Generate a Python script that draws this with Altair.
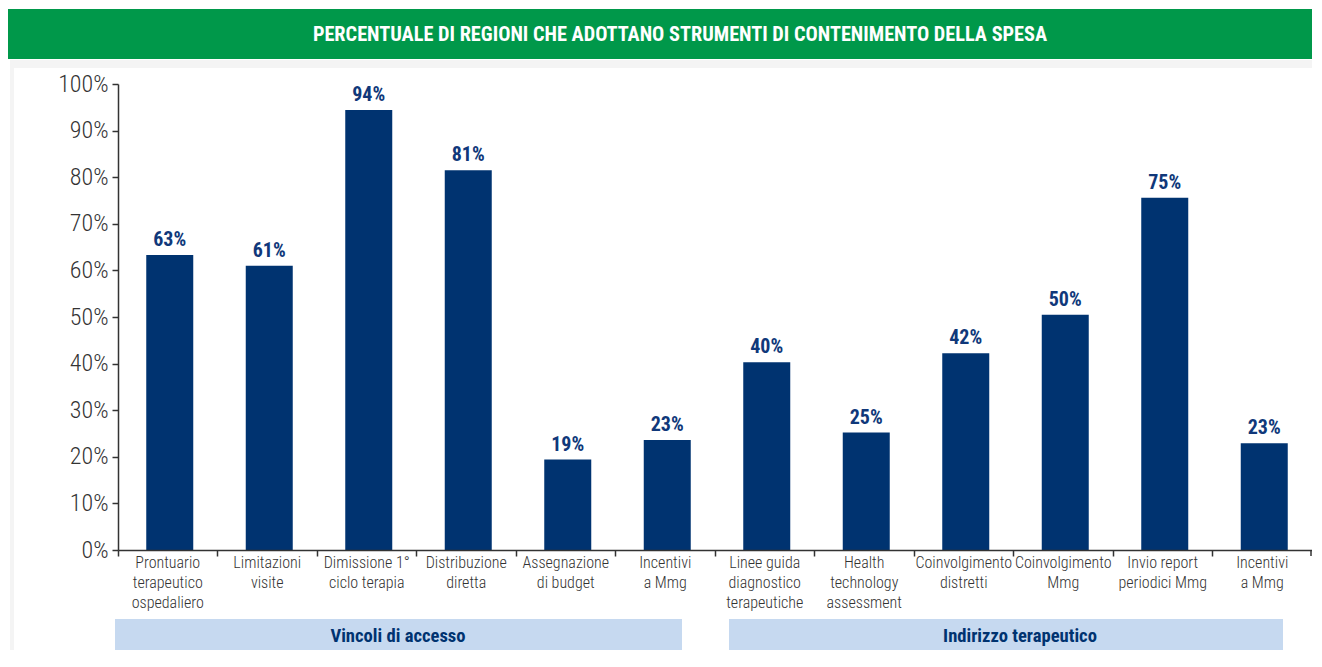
import json
import altair as alt
import pandas as pd

# ---------------- data ----------------
categories = [
    ["Prontuario", "terapeutico", "ospedaliero"],
    ["Limitazioni", "visite"],
    ["Dimissione 1°", "ciclo terapia"],
    ["Distribuzione", "diretta"],
    ["Assegnazione", "di budget"],
    ["Incentivi", "a Mmg"],
    ["Linee guida", "diagnostico", "terapeutiche"],
    ["Health", "technology", "assessment"],
    ["Coinvolgimento", "distretti"],
    ["Coinvolgimento", "Mmg"],
    ["Invio report", "periodici Mmg"],
    ["Incentivi", "a Mmg"],
]
values = [63.3, 61.0, 94.4, 81.5, 19.4, 23.6, 40.3, 25.2, 42.2, 50.5, 75.6, 22.9]
value_labels = ["63%", "61%", "94%", "81%", "19%", "23%", "40%", "25%", "42%", "50%", "75%", "23%"]
groups = ["Vincoli di accesso", "Indirizzo terapeutico"]
title_text = "PERCENTUALE DI REGIONI CHE ADOTTANO STRUMENTI DI CONTENIMENTO DELLA SPESA"
y_ticks = list(range(0, 101, 10))

df = pd.DataFrame({"idx": list(range(len(values))), "value": values, "label": value_labels})
one = pd.DataFrame({"k": [0]})

FONT = "Liberation Sans Narrow, Roboto Condensed, DejaVu Sans Condensed, sans-serif"
NAVY = "#003370"
GREEN = "#00984A"
BAND = "#C6D9F0"
AXIS = "#333333"

W, H = 1194, 466
RIGHT_EDGE = W

label_expr = json.dumps(categories, ensure_ascii=False).replace('"', "'") + "[datum.value]"

x_enc = alt.X(
    "idx:O",
    scale=alt.Scale(paddingInner=0, paddingOuter=0),
    axis=alt.Axis(
        title=None,
        labelExpr=label_expr,
        labelAngle=0,
        labelFont=FONT,
        labelFontSize=16,
        labelFontWeight=300,
        labelColor=AXIS,
        labelLineHeight=20,
        labelPadding=-2,
        bandPosition=0,
        tickSize=6,
        tickColor=AXIS,
        tickWidth=1.5,
        domainColor=AXIS,
        domainWidth=1.5,
        labelOverlap=False,
        zindex=2,
    ),
)
y_enc = alt.Y(
    "value:Q",
    scale=alt.Scale(domain=[0, 100], nice=False),
    axis=alt.Axis(
        title=None,
        values=y_ticks,
        labelExpr="datum.value + '%'",
        labelFont=FONT,
        labelFontSize=24,
        labelFontWeight=300,
        labelColor=AXIS,
        labelPadding=4,
        tickSize=6,
        tickColor=AXIS,
        tickWidth=1.5,
        domainColor=AXIS,
        domainWidth=1.5,
        grid=False,
        zindex=2,
    ),
)

# background panel shadow
shadow = alt.Chart(one).mark_rect(color="#f4f4f4").encode(
    x=alt.value(-108), x2=alt.value(RIGHT_EDGE), y=alt.value(-24), y2=alt.value(600)
)
panel = alt.Chart(one).mark_rect(color="#ffffff").encode(
    x=alt.value(-104), x2=alt.value(RIGHT_EDGE), y=alt.value(-16), y2=alt.value(600)
)

# title bar
title_bar = alt.Chart(one).mark_rect(color=GREEN).encode(
    x=alt.value(-110), x2=alt.value(RIGHT_EDGE), y=alt.value(-75), y2=alt.value(-25)
)
title_txt = alt.Chart(one).mark_text(
    text=title_text, font=FONT, fontSize=20.3, fontWeight="bold", color="white",
    align="center", baseline="middle"
).encode(x=alt.value(562), y=alt.value(-49))

bars = alt.Chart(df).mark_bar(size=47, xOffset=2, color=NAVY).encode(x=x_enc, y=y_enc)
bar_text = alt.Chart(df).mark_text(
    font=FONT, fontSize=20, fontWeight="bold", color="#10387A",
    baseline="alphabetic", dy=-9, xOffset=2
).encode(x=alt.X("idx:O"), y=alt.Y("value:Q"), text="label:N")

last_tick = alt.Chart(one).mark_rule(color=AXIS, strokeWidth=1.5).encode(
    x=alt.value(W - 1), y=alt.value(H), y2=alt.value(H + 6)
)

# group bands
band1 = alt.Chart(one).mark_rect(color=BAND).encode(
    x=alt.value(-3), x2=alt.value(564), y=alt.value(535), y2=alt.value(568)
)
band2 = alt.Chart(one).mark_rect(color=BAND).encode(
    x=alt.value(611), x2=alt.value(1165), y=alt.value(535), y2=alt.value(568)
)
band1_txt = alt.Chart(one).mark_text(
    text=groups[0], font=FONT, fontSize=18.6, fontWeight="bold", color=NAVY,
    align="center", baseline="middle"
).encode(x=alt.value(280), y=alt.value(551.5))
band2_txt = alt.Chart(one).mark_text(
    text=groups[1], font=FONT, fontSize=18.6, fontWeight="bold", color=NAVY,
    align="center", baseline="middle"
).encode(x=alt.value(902), y=alt.value(551.5))

chart = alt.layer(
    shadow, panel, title_bar, title_txt, bars, bar_text, last_tick,
    band1, band2, band1_txt, band2_txt
).properties(
    width=W, height=H,
    autosize=alt.AutoSizeParams(type="none"),
    padding={"left": 110, "top": 76, "right": 0, "bottom": 100},
    background="white",
).configure_view(strokeWidth=0)

chart.save("out.html", embed_options={"renderer": "svg", "actions": False})
